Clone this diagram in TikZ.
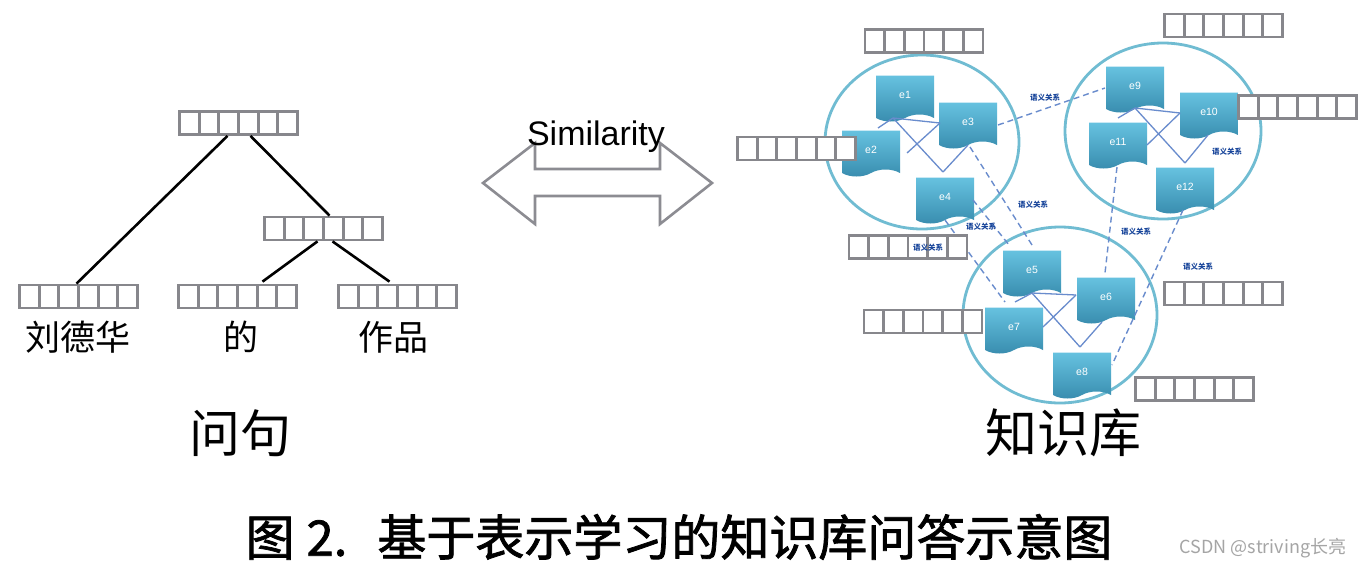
\documentclass[tikz,border=0pt]{standalone}
\usepackage{fontspec}
\setmainfont{Liberation Sans}
\newfontfamily\cjk{Noto Sans CJK SC}
\newfontfamily\cjkcap{Noto Sans CJK SC}[FakeBold=1.6]
\usetikzlibrary{shapes.symbols,calc}
\definecolor{vecgray}{RGB}{135,135,140}
\definecolor{ring}{RGB}{112,188,210}
\definecolor{entTop}{RGB}{102,194,224}
\definecolor{entBot}{RGB}{56,140,174}
\definecolor{edgeblue}{RGB}{105,140,205}
\definecolor{lblblue}{RGB}{25,70,155}
\definecolor{arrgray}{RGB}{140,140,146}
\definecolor{wmgray}{RGB}{165,165,165}
\tikzset{
  vec/.style={draw=vecgray, line width=2.8pt, fill=white, minimum width=118pt,
    minimum height=23pt, inner sep=0pt,
    path picture={\foreach \k in {1,...,5}{\draw[vecgray,line width=2.8pt]
      ($(path picture bounding box.north west)!\k/6!(path picture bounding box.north east)$) --
      ($(path picture bounding box.south west)!\k/6!(path picture bounding box.south east)$);}}},
  ent/.style={tape, tape bend top=none, tape bend height=7pt, minimum width=58pt,
    minimum height=46pt, inner sep=0pt, top color=entTop, bottom color=entBot,
    text=white, font=\fontsize{10.5pt}{12pt}\selectfont},
  treeline/.style={black, line width=2.6pt},
  inner/.style={edgeblue, line width=1.3pt},
  rel/.style={edgeblue, line width=1.4pt, dash pattern=on 6pt off 4pt},
  rellbl/.style={text=lblblue, font=\cjk\bfseries\fontsize{7.5pt}{9pt}\selectfont, inner sep=0pt},
  kbring/.style={draw=ring, line width=2.8pt},
  zh/.style={font=\cjk\fontsize{35pt}{40pt}\selectfont, inner sep=0pt},
  zhbig/.style={font=\cjk\fontsize{51pt}{56pt}\selectfont, inner sep=0pt}
}
\begin{document}
\begin{tikzpicture}[x=1pt,y=-1pt]
\useasboundingbox[fill=white] (0,0) rectangle (1366,568);

% ---------- left: question tree ----------
\node[vec] (vt) at (238.5,123) {};
\node[vec] (vm) at (323.5,228.5) {};
\node[vec] (vb1) at (78.5,296.5) {};
\node[vec] (vb2) at (237.5,296.5) {};
\node[vec] (vb3) at (397.5,296.5) {};
\draw[treeline] ($(vt.south)+(-11,0)$) -- ($(vb1.north)+(-2,0)$);
\draw[treeline] ($(vt.south)+(12,0)$) -- ($(vm.north)+(6,0)$);
\draw[treeline] ($(vm.south)+(-6,0)$) -- ($(vb2.north)+(25,-2)$);
\draw[treeline] ($(vm.south)+(9,0)$) -- ($(vb3.north)+(-8,-2)$);
\node[zh] (w1) at (78,337) {刘德华};
\node[zh] (w2) at (241,337) {的};
\node[zh] (w3) at (393,337) {作品};
\node[zhbig] (q) at (240,433) {问句};

% ---------- similarity double arrow ----------
\draw[arrgray, line width=2.6pt, line join=miter]
  (483,183) -- (535,143) -- (535,169) -- (660,169) -- (660,143) -- (712,183)
  -- (660,224) -- (660,196) -- (535,196) -- (535,224) -- cycle;
\node[anchor=base, inner sep=0pt, font=\fontsize{34pt}{40pt}\selectfont] (sim) at (596,145) {Similarity};

% ---------- right: knowledge base ----------
\draw[kbring] (922,142) ellipse [x radius=97, y radius=87];
\draw[kbring] (1163,131) ellipse [x radius=98, y radius=88];
\draw[kbring] (1060,315) ellipse [x radius=97, y radius=88];

\node[ent] (e1) at (905,95) {e1};
\node[ent] (e2) at (871,150) {e2};
\node[ent] (e3) at (968,122) {e3};
\node[ent] (e4) at (945,197) {e4};
\node[ent] (e5) at (1032,270) {e5};
\node[ent] (e6) at (1106,297) {e6};
\node[ent] (e7) at (1014,327) {e7};
\node[ent] (e8) at (1082,372) {e8};
\node[ent] (e9) at (1135,86) {e9};
\node[ent] (e10) at (1209,112) {e10};
\node[ent] (e11) at (1118,142) {e11};
\node[ent] (e12) at (1185,187) {e12};

% inner relations
\draw[inner] ($(e1)+(-12,23)$) -- ($(e2)+(7,-22)$);
\draw[inner] ($(e1)+(-12,23)$) -- ($(e3)+(-28,1)$);
\draw[inner] ($(e1)+(-12,23)$) -- ($(e4)+(-2,-25)$);
\draw[inner] ($(e2)+(36,3)$) -- ($(e3)+(-28,1)$);
\draw[inner] ($(e4)+(-2,-25)$) -- ($(e3)+(0,23)$);

\draw[inner] ($(e9)+(0,22)$) -- ($(e11)+(0,-24)$);
\draw[inner] ($(e9)+(0,22)$) -- ($(e10)+(-29,1)$);
\draw[inner] ($(e9)+(0,22)$) -- ($(e12)+(0,-24)$);
\draw[inner] ($(e11)+(29,3)$) -- ($(e10)+(-29,1)$);
\draw[inner] ($(e12)+(0,-24)$) -- ($(e10)+(-1,23)$);

\draw[inner] ($(e5)+(0,23)$) -- ($(e7)+(1,-25)$);
\draw[inner] ($(e5)+(0,23)$) -- ($(e6)+(-30,-2)$);
\draw[inner] ($(e5)+(0,23)$) -- ($(e8)+(-2,-25)$);
\draw[inner] ($(e7)+(29,0)$) -- ($(e6)+(-30,-2)$);
\draw[inner] ($(e8)+(-2,-25)$) -- ($(e6)+(-4,25)$);

% cross-cluster relations
\draw[rel] ($(e3)+(30,3)$) -- ($(e9)+(-30,2)$);
\draw[rel] ($(e3)+(2,25)$) -- ($(e5)+(0,-25)$);
\draw[rel] ($(e4)+(28,3)$) -- ($(e5)+(-23,-25)$);
\draw[rel] ($(e4)+(0,23)$) -- ($(e7)+(-9,-25)$);
\draw[rel] ($(e11)+(-1,25)$) -- ($(e6)+(-1,-24)$);
\draw[rel] ($(e12)+(-2,23)$) -- ($(e8)+(30,-7)$);

% vectors
\node[vec] (r1) at (924,41) {};
\node[vec] (r2) at (796.5,148.5) {};
\node[vec] (r3) at (1223.5,25.5) {};
\node[vec] (r4) at (1297.5,107) {};
\node[vec] (r5) at (908,247) {};
\node[vec] (r6) at (923,321.5) {};
\node[vec] (r7) at (1223.5,293.5) {};
\node[vec] (r8) at (1194.5,389) {};

% relation labels
\node[rellbl] (l1) at (1045,98) {语义关系};
\node[rellbl] (l2) at (1227,152) {语义关系};
\node[rellbl] (l3) at (1033,205) {语义关系};
\node[rellbl] (l4) at (981,227) {语义关系};
\node[rellbl] (l5) at (928,248) {语义关系};
\node[rellbl] (l6) at (1136,232) {语义关系};
\node[rellbl] (l7) at (1198,267) {语义关系};

\node[zhbig, font=\cjk\fontsize{52pt}{58pt}\selectfont] (kb) at (1063,433) {知识库};

% ---------- caption ----------
\node[inner sep=0pt, font=\cjkcap\fontsize{49pt}{55pt}\selectfont] (cap) at (679,537)
  {图\hspace{12pt}2.\hspace{30pt}基于表示学习的知识库问答示意图};
\node[inner sep=0pt, text=wmgray, font=\cjk\fontsize{18pt}{21pt}\selectfont] (wm) at (1263,548)
  {CSDN @striving长亮};
\end{tikzpicture}
\end{document}
